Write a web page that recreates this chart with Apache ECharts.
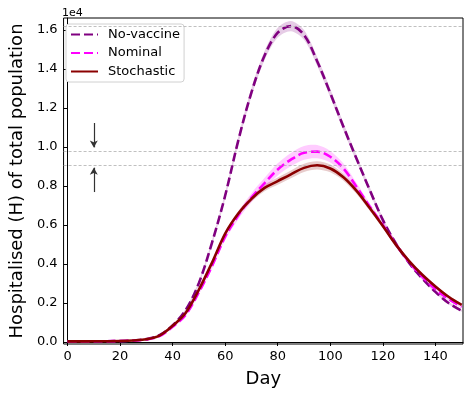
<!DOCTYPE html>
<html><head><meta charset="utf-8">
<script src="https://cdn.jsdelivr.net/npm/echarts@6/dist/echarts.min.js"></script>
<style>html,body{margin:0;padding:0;background:#fff}#c{width:470px;height:394px}</style>
</head><body><div id="c"></div><script>
// ---- data ----
const days = [0,5,10,15,20,25,30,35,40,45,50,55,60,65,70,75,80,85,90,95,100,105,110,115,120,125,130,135,140,145,150];
const noVaccine = [30,30,35,40,50,80,150,350,850,1650,3030,5100,7510,10340,12800,14690,15860,16200,15750,14400,12760,11040,9400,7800,6260,5040,4050,3260,2570,2000,1600];
const nominal = [30,30,35,40,50,75,130,300,780,1400,2550,3900,5400,6500,7400,8150,8850,9350,9700,9760,9500,8900,7950,6950,6000,5000,4100,3350,2700,2200,1800];
const stochastic = [30,30,35,40,50,80,140,330,830,1500,2690,4070,5560,6590,7340,7900,8250,8600,8930,9060,8900,8450,7750,6870,5950,4980,4150,3450,2850,2320,1900];
// half-widths of the shaded bands
const noVaccineSpread = [5,5,5,5,5,5,10,20,40,70,100,130,160,190,210,230,250,260,250,230,210,190,170,150,130,110,90,80,70,60,50];
const nominalSpread = [5,5,5,5,5,5,10,20,40,80,120,150,170,200,230,270,310,340,350,340,300,250,200,160,130,110,90,80,70,60,50];
const stochasticSpread = [5,5,5,5,5,5,10,20,30,50,70,90,110,130,150,170,190,200,210,210,200,180,160,140,120,100,90,80,70,60,50];
const refLines = [16200, 9790, 9060];
const arrowDay = 10;
const arrowDown = [11230, 9980];
const arrowUp = [7690, 8940];
const xTicks = [0,20,40,60,80,100,120,140];
const yTicks = [0,2000,4000,6000,8000,10000,12000,14000,16000];
const seriesNames = ['No-vaccine','Nominal','Stochastic'];

const FONT = 'DejaVu Sans';
const colors = ['#800080','#ff00ff','#8b0000'];
const bandColors = ['rgba(128,0,128,0.2)','rgba(255,0,255,0.2)','rgba(139,0,0,0.2)'];
const SM = 0.35;

function band(idx, mid, spread) {
  return {
    type:'custom', silent:true, z:1, data:[[0,0]],
    renderItem: (params, api) => {
      const up = days.map((d,i)=>api.coord([d, mid[i]+spread[i]]));
      const lo = days.map((d,i)=>api.coord([d, mid[i]-spread[i]])).reverse();
      return {type:'polygon', shape:{points: up.concat(lo), smooth:0.3}, style:{fill:bandColors[idx]}};
    }
  };
}
function mainLine(idx, vals, dashed) {
  return {type:'line', name:seriesNames[idx], data: days.map((d,i)=>[d, vals[i]]), symbol:'none', smooth:SM,
    itemStyle:{color:colors[idx]},
    lineStyle:{color:colors[idx], width:2.6, type: dashed ? [9,4] : 'solid'}, z:3+idx};
}

const series = [
  band(0, noVaccine, noVaccineSpread),
  band(1, nominal, nominalSpread),
  band(2, stochastic, stochasticSpread),
  mainLine(0, noVaccine, true),
  mainLine(1, nominal, true),
  mainLine(2, stochastic, false)
];
series[3].markLine = {
  silent:true, symbol:'none', label:{show:false},
  lineStyle:{color:'#b0b0b0', type:[3,2], width:0.8},
  data: refLines.map(v=>({yAxis:v}))
};
series[4].markLine = {
  silent:true, label:{show:false}, symbol:['none','arrow'], symbolSize:[6,7],
  lineStyle:{color:'#333', type:'solid', width:1.2},
  data: [
    [{coord:[arrowDay, arrowDown[0]]},{coord:[arrowDay, arrowDown[1]]}],
    [{coord:[arrowDay, arrowUp[0]]},{coord:[arrowDay, arrowUp[1]]}]
  ]
};

const chart = echarts.init(document.getElementById('c'), null, {renderer:'canvas'});
chart.setOption({
  animation:false,
  textStyle:{fontFamily:FONT},
  title:{text:'1e4', left:57, top:3, textStyle:{fontFamily:FONT, fontSize:11, fontWeight:'normal', color:'#000'}},
  grid:{left:58, right:7, top:18, bottom:50, show:true, borderColor:'#000', borderWidth:1, backgroundColor:'transparent'},
  legend:{
    data: seriesNames, orient:'vertical', left:66, top:24,
    itemWidth:27, itemHeight:14, itemGap:5.5,
    itemStyle:{opacity:0},
    padding:[4,4,4,4], backgroundColor:'#fff', borderColor:'#d0d0d0', borderWidth:1, borderRadius:3,
    textStyle:{fontFamily:FONT, fontSize:13, color:'#000', padding:[0,0,0,5]}
  },
  xAxis:{
    type:'value', min:-1.5, max:150.5,
    name:'Day', nameLocation:'middle', nameGap:26,
    nameTextStyle:{fontFamily:FONT, fontSize:18, color:'#000'},
    axisLine:{show:true, lineStyle:{color:'#000', width:1}},
    axisTick:{show:true, length:4, inside:false, customValues:xTicks, lineStyle:{color:'#000'}},
    axisLabel:{customValues:xTicks, margin:6, fontFamily:FONT, fontSize:13, color:'#000'},
    splitLine:{show:false}
  },
  yAxis:{
    type:'value', min:-103, max:16615,
    name:'Hospitalised (H) of total population', nameLocation:'middle', nameGap:36,
    nameTextStyle:{fontFamily:FONT, fontSize:18, color:'#000'},
    axisLine:{show:true, lineStyle:{color:'#000', width:1}},
    axisTick:{show:true, length:4, inside:false, customValues:yTicks, lineStyle:{color:'#000'}},
    axisLabel:{customValues:yTicks, margin:6, fontFamily:FONT, fontSize:13, color:'#000',
      formatter: v => (v/10000).toFixed(1)},
    splitLine:{show:false}
  },
  series
});
</script></body></html>
